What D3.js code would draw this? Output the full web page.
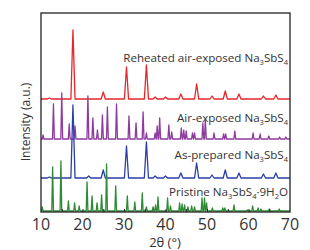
<!DOCTYPE html>
<html>
<head>
<meta charset="utf-8">
<script src="https://cdn.jsdelivr.net/npm/d3@7"></script>
<style>
body { margin: 0; background: #fff; }
text { font-family: "Open Sans", sans-serif; fill: #333; }
</style>
</head>
<body>
<div id="chart"></div>
<script>
// peaks as [2theta, height above the pattern's baseline]
let reheated = [[12,1],[17.7,69],[25,7],[30.6,32],[35.4,34],[37.5,2],[40,2],[43.7,5],
  [47.5,15],[51.2,3],[54.4,8],[57.7,5],[63.6,3],[66.6,4]];
let airExposed = [[10.5,4],[13,35],[15,46],[16.8,15],[18.2,13],[21.3,43],[22.5,21],[23.6,9],
  [24.8,24],[26,32],[28.2,35],[31.2,23],[32.9,16],[34.6,27],[35.4,6],[37.5,6],[38,13],
  [38.6,21],[40.8,14],[41.5,7],[43.8,11],[44.4,9],[45,8],[46.5,6],[47,6],[49,16],[49.6,19],
  [51.7,6],[54,5],[54.5,5],[56.7,8],[61.1,6],[62.8,5],[64.9,3],[67.5,2],[69,2]];
let asPrepared = [[12,1],[17.7,73],[21.5,2],[25,8],[30.6,32],[35.4,36],[37.5,2],[40,2],
  [43.7,5],[47.5,15],[51.2,3],[54.4,8],[57.7,5],[63.6,4],[66.6,5]];
let pristine = [[10.3,4],[12.8,44],[14.8,50],[16.6,10],[18.1,8],[19.2,5],[21.1,29],[22.3,15],
  [23.5,8],[24.6,16],[25.8,47],[28,25],[30.8,15],[32.6,9],[34.4,18],[35.4,4],[37,4],[37.6,6],
  [38.2,14],[40.5,13],[41.2,5],[43.4,8],[44,7],[44.6,6],[45.4,4],[46.3,5],[47,4],[48.8,13],
  [49.4,13],[49.9,8],[51.3,3],[53.8,3],[54.3,3],[56.5,6],[59.7,1],[61,5],[62.3,3],[63,2],
  [65,2],[67.4,2]];

let offsets = [113, 73, 34, 1];
let colors = ['#e8262a', '#8e3a9e', '#2a3fa8', '#2e8a35'];
let widths = [0.5, 0.22, 0.5, 0.2];
let labels = ['Reheated air-exposed Na|3|SbS|4|', 'Air-exposed Na|3|SbS|4|',
  'As-prepared Na|3|SbS|4|', 'Pristine Na|3|SbS|4|\u00b79H|2|O'];
let labelY = [62, 122, 159, 196];
let xTicks = [10, 20, 30, 40, 50, 60, 70];

let W = 310, H = 250;
let svg = d3.select('#chart').append('svg').attr('width', W).attr('height', H);
let x = d3.scaleLinear().domain([10, 70]).range([41, 290]);
let y = d3.scaleLinear().domain([0, 199]).range([212, 13]);

function pattern(peaks, w) {
  let pts = [[10, 0]];
  peaks.forEach(p => {
    pts.push([p[0] - w, 0], [p[0], p[1]], [p[0] + w, 0]);
  });
  pts.push([70, 0]);
  return pts;
}

[reheated, airExposed, asPrepared, pristine].forEach((s, i) => {
  svg.append('path')
    .attr('d', d3.line().x(d => x(d[0])).y(d => y(d[1] + offsets[i]))(pattern(s, widths[i])))
    .attr('fill', 'none').attr('stroke', colors[i]).attr('stroke-width', 1.3)
    .attr('stroke-linejoin', 'round');
});

labels.forEach((l, i) => {
  let t = svg.append('text').attr('x', 288).attr('y', labelY[i])
    .attr('text-anchor', 'end').attr('font-size', 11.6);
  l.split('|').forEach((part, j) => {
    if (!part) return;
    let ts = t.append('tspan').text(part);
    if (j % 2 == 1) ts.attr('font-size', 7.5).attr('dy', 3);
    else if (j > 0) ts.attr('dy', -3);
  });
});

svg.append('rect').attr('x', 41).attr('y', 13).attr('width', 249).attr('height', 199)
  .attr('fill', 'none').attr('stroke', '#222').attr('stroke-width', 1.3);

let ax = svg.append('g').attr('transform', 'translate(0,212)')
  .call(d3.axisBottom(x).tickValues(d3.range(15, 70, 5)).tickSize(-3).tickFormat(''));
ax.select('.domain').remove();
ax.selectAll('line').attr('stroke', '#222');

svg.selectAll('text.tick').data(xTicks).enter().append('text').attr('class', 'tick')
  .attr('x', d => x(d)).attr('y', 230).attr('text-anchor', 'middle')
  .attr('font-size', 16).text(d => d);

svg.append('text').attr('x', 165).attr('y', 247).attr('text-anchor', 'middle')
  .attr('font-size', 13).text('2\u03b8 (\u00b0)');

svg.append('text').attr('transform', 'translate(30,122) rotate(-90)')
  .attr('text-anchor', 'middle').attr('font-size', 12).text('Intensity (a.u.)');
</script>
</body>
</html>
